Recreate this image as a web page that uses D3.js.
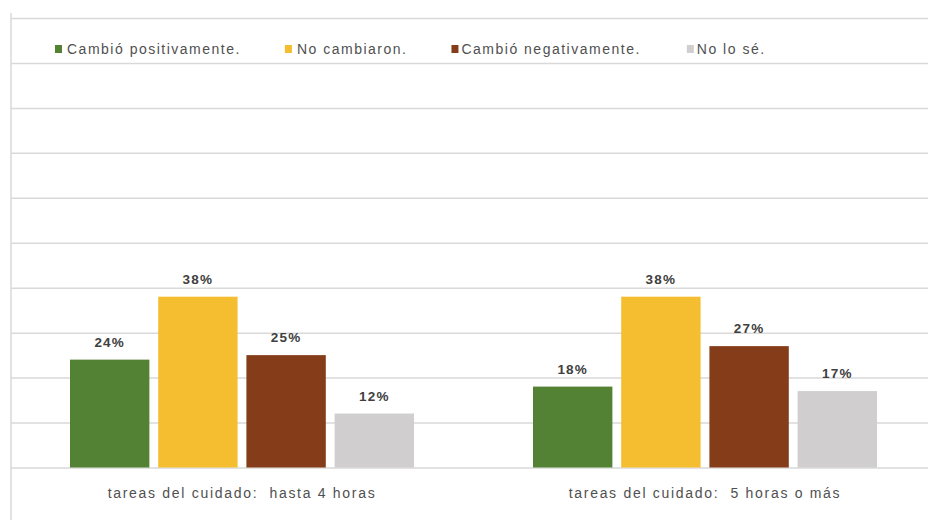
<!DOCTYPE html>
<html>
<head>
<meta charset="utf-8">
<script src="https://cdn.jsdelivr.net/npm/d3@7"></script>
<style>
  html, body { margin: 0; padding: 0; background: #fff; }
  svg { display: block; }
  text { font-family: "Liberation Sans", Arial, sans-serif; }
</style>
</head>
<body>
<svg id="chart" width="928" height="520"></svg>
<script>
// ---- Data ----
const categories = ["tareas del cuidado:  hasta 4 horas", "tareas del cuidado:  5 horas o más"];
const seriesNames = ["Cambió positivamente.", "No cambiaron.", "Cambió negativamente.", "No lo sé."];
const cambioPositivo = [24, 18];
const noCambiaron = [38, 38];
const cambioNegativo = [25, 27];
const noLoSe = [12, 17];
const colors = ["#548235", "#F5BE31", "#843C19", "#D0CECE"];
const yTicks = [0, 10, 20, 30, 40, 50, 60, 70, 80, 90, 100];

const seriesValues = [cambioPositivo, noCambiaron, cambioNegativo, noLoSe];

// ---- Layout ----
const W = 928, H = 520;
const plotLeft = 11, plotRight = 937, plotTop = 18, plotBottom = 467.5;
const svg = d3.select("#chart");

const x0 = d3.scaleBand().domain(categories).range([plotLeft, plotRight]).padding(0);
const x1 = d3.scaleBand().domain(seriesNames).range([59, 403]).paddingInner(0.1);
const y = d3.scaleLinear().domain([0, 100]).range([plotBottom, plotTop]);

// Left border line
svg.append("line")
  .attr("x1", plotLeft).attr("x2", plotLeft)
  .attr("y1", 13).attr("y2", H)
  .attr("stroke", "#d9d9d9").attr("stroke-width", 1.5);

// Gridlines via axis
const grid = svg.append("g")
  .attr("transform", `translate(${plotLeft},0)`)
  .call(d3.axisRight(y).tickValues(yTicks).tickSize(W - plotLeft).tickFormat(""));
grid.select(".domain").remove();
grid.selectAll(".tick line").attr("stroke", "#d9d9d9").attr("stroke-width", 1.5);

// Bars
const groups = svg.append("g").selectAll("g")
  .data(categories)
  .join("g")
  .attr("transform", d => `translate(${x0(d)},0)`);

groups.each(function(cat, ci) {
  const g = d3.select(this);
  const rows = seriesNames.map((s, si) => ({ s, si, v: seriesValues[si][ci] }));
  g.selectAll("rect")
    .data(rows)
    .join("rect")
    .attr("x", d => x1(d.s))
    .attr("y", d => y(d.v))
    .attr("width", x1.bandwidth())
    .attr("height", d => y(0) - y(d.v))
    .attr("fill", d => colors[d.si]);
  g.selectAll("text.val")
    .data(rows)
    .join("text")
    .attr("class", "val")
    .attr("x", d => x1(d.s) + x1.bandwidth() / 2)
    .attr("y", d => y(d.v) - 13)
    .attr("text-anchor", "middle")
    .attr("font-size", 13.5)
    .attr("font-weight", "bold")
    .attr("letter-spacing", 1.2)
    .attr("fill", "#404040")
    .text(d => d.v + "%");
});

// Category labels
svg.append("g").selectAll("text")
  .data(categories)
  .join("text")
  .attr("x", d => x0(d) + 231)
  .attr("y", 498)
  .attr("text-anchor", "middle")
  .attr("font-size", 14)
  .attr("letter-spacing", 1.7)
  .attr("fill", "#505050")
  .style("white-space", "pre")
  .text(d => d);

// Legend
const legend = svg.append("g").attr("transform", "translate(55,49)");
let lx = 0;
seriesNames.forEach((name, i) => {
  const item = legend.append("g").attr("transform", `translate(${lx},0)`);
  item.append("rect").attr("x", 0).attr("y", -4).attr("width", 7).attr("height", 8).attr("fill", colors[i]);
  const t = item.append("text")
    .attr("x", 10 + (i >= 2 ? 0 : 2))
    .attr("y", 5)
    .attr("font-size", 14)
    .attr("letter-spacing", 1.5)
    .attr("fill", "#505050")
    .text(name);
  const w = t.node().getComputedTextLength();
  lx += 10 + w + 46;
});
</script>
</body>
</html>
